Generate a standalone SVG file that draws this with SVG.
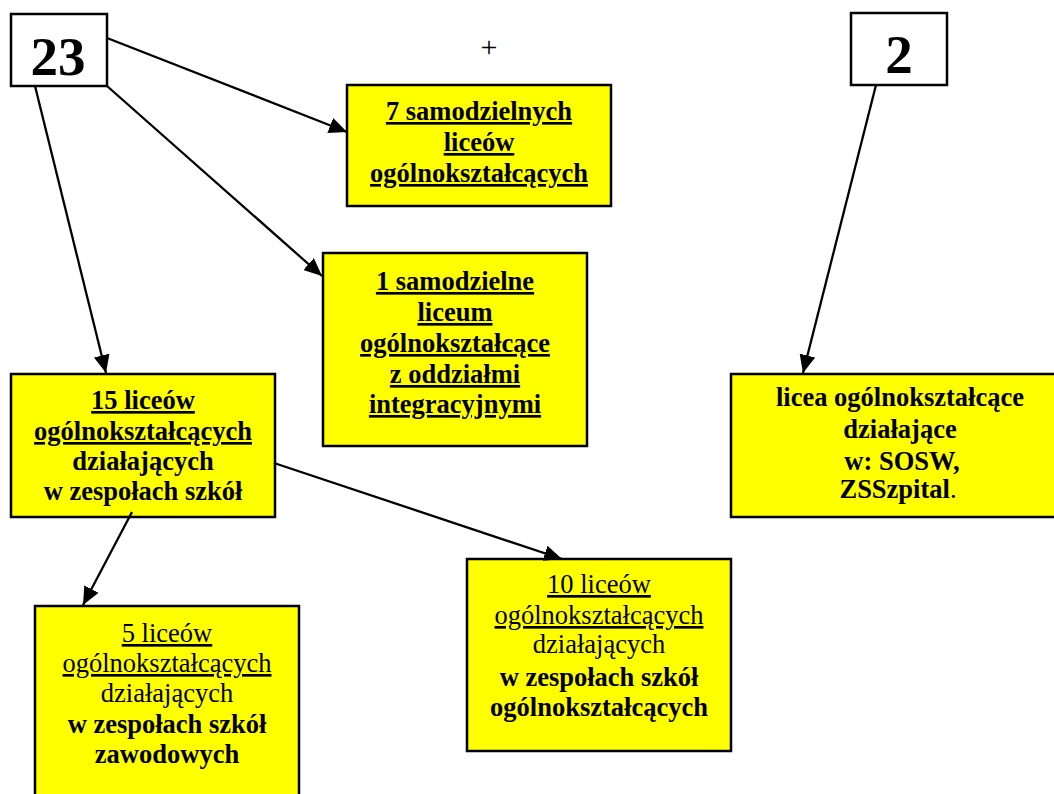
<svg xmlns="http://www.w3.org/2000/svg" width="1054" height="794" viewBox="0 0 1054 794">
<style>
.box{fill:#ffff00;stroke:#000;stroke-width:2.5}
.wbox{fill:#fff;stroke:#000;stroke-width:2.5}
text{font-family:"Liberation Serif","Times New Roman",serif;font-size:26.5px;fill:#000;text-anchor:middle}
.b{font-weight:bold}
.u{text-decoration:underline}
.num{font-weight:bold;font-size:55px}
.plus{font-size:30px}
.conn{stroke:#000;stroke-width:2.3;fill:none;marker-end:url(#ah)}
</style>
<defs>
<marker id="ah" markerUnits="userSpaceOnUse" markerWidth="20" markerHeight="16" refX="18" refY="8" orient="auto">
<path d="M0,0 L18,8 L0,16 Z" fill="#000"/>
</marker>
</defs>
<rect width="1054" height="794" fill="#fff"/>
<g id="n23">
<rect class="wbox" x="11" y="14" width="96" height="72"/>
<text class="num" x="58" y="75">23</text>
</g>
<g id="plus"><text class="plus" x="489" y="57">+</text></g>
<g id="n2">
<rect class="wbox" x="851" y="13" width="96" height="72"/>
<text class="num" x="899" y="73">2</text>
</g>
<g id="n7">
<rect class="box" x="347" y="85" width="264" height="121"/>
<text class="b u" x="479" y="120">7 samodzielnych</text>
<text class="b u" x="479" y="151">liceów</text>
<text class="b u" x="479" y="182">ogólnokształcących</text>
</g>
<g id="n1">
<rect class="box" x="323" y="253" width="264" height="193"/>
<text class="b u" x="455" y="290">1 samodzielne</text>
<text class="b u" x="455" y="321">liceum</text>
<text class="b u" x="455" y="352">ogólnokształcące</text>
<text class="b u" x="455" y="383">z oddziałmi</text>
<text class="b u" x="455" y="413">integracyjnymi</text>
</g>
<g id="n15">
<rect class="box" x="11" y="374" width="264" height="143"/>
<text class="b u" x="143" y="409">15 liceów</text>
<text class="b u" x="143" y="440">ogólnokształcących</text>
<text class="b" x="143" y="470">działających</text>
<text class="b" x="143" y="500">w zespołach szkół</text>
</g>
<g id="nlicea">
<rect class="box" x="731" y="374" width="330" height="143"/>
<text class="b" x="900" y="406">licea ogólnokształcące</text>
<text class="b" x="900" y="438">działające</text>
<text class="b" x="902" y="470">w: SOSW,</text>
<text x="898" y="498"><tspan class="b">ZSSzpital</tspan>.</text>
</g>
<g id="n5">
<rect class="box" x="35" y="606" width="264" height="200"/>
<text class="u" x="167" y="642">5 liceów</text>
<text class="u" x="167" y="672">ogólnokształcących</text>
<text x="167" y="702">działających</text>
<text class="b" x="167" y="733">w zespołach szkół</text>
<text class="b" x="167" y="763">zawodowych</text>
</g>
<g id="n10">
<rect class="box" x="467" y="559" width="264" height="192"/>
<text class="u" x="599" y="593">10 liceów</text>
<text class="u" x="599" y="624">ogólnokształcących</text>
<text x="599" y="653">działających</text>
<text class="b" x="599" y="686">w zespołach szkół</text>
<text class="b" x="599" y="716">ogólnokształcących</text>
</g>
<g id="connectors">
<line class="conn" x1="107" y1="38" x2="347" y2="132"/>
<line class="conn" x1="107" y1="86" x2="322" y2="276"/>
<line class="conn" x1="35" y1="86" x2="106" y2="373"/>
<line class="conn" x1="876" y1="85" x2="803" y2="373"/>
<line class="conn" x1="274" y1="463" x2="562" y2="559"/>
<line class="conn" x1="132" y1="512" x2="83" y2="605"/>
</g>
</svg>
